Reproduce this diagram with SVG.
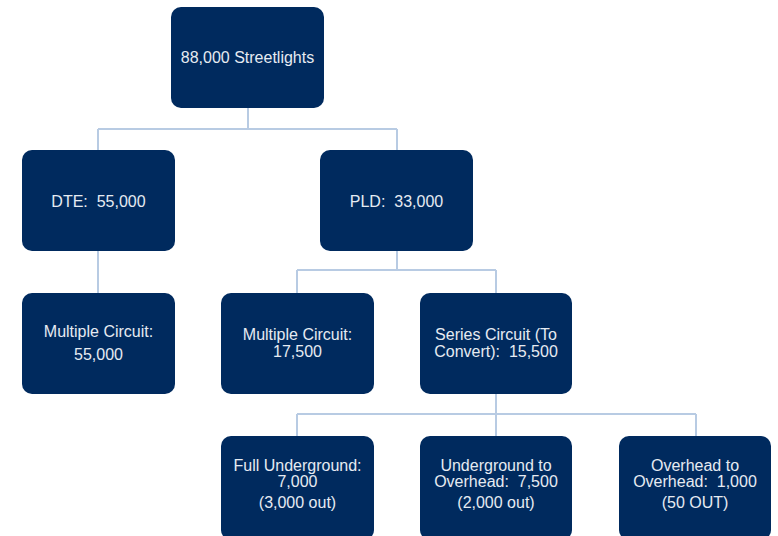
<svg xmlns="http://www.w3.org/2000/svg" width="778" height="536" viewBox="0 0 778 536" xml:space="preserve">
<style>
.box{fill:#002a5e;}
.t{font-family:"Liberation Sans",Arial,sans-serif;font-size:16px;fill:#e6ebf2;text-anchor:middle;white-space:pre;}
.c{stroke:#b8cbe3;stroke-width:2;fill:none;}
</style>
<rect width="778" height="536" fill="#ffffff"/>
<g id="connectors">
<path class="c" d="M248 108V129M98 129H397M98 129V151M397 129V151"/>
<path class="c" d="M98 251V293"/>
<path class="c" d="M397 251V270M297 270H496M297 270V293M496 270V293"/>
<path class="c" d="M496 394V414M297 414H696M297 414V436M496 414V436M696 414V436"/>
</g>
<g id="root"><rect class="box" x="171" y="7" width="153" height="101" rx="10"/><text class="t" x="247.5" y="63">88,000 Streetlights</text></g>
<g id="dte"><rect class="box" x="22" y="150" width="153" height="101" rx="10"/><text class="t" x="98.5" y="207">DTE:  55,000</text></g>
<g id="pld"><rect class="box" x="320" y="150" width="153" height="101" rx="10"/><text class="t" x="396.5" y="207">PLD:  33,000</text></g>
<g id="dte-multiple"><rect class="box" x="22" y="293" width="153" height="101" rx="10"/><text class="t" x="98.5" y="337">Multiple Circuit:</text><text class="t" x="98.5" y="360">55,000</text></g>
<g id="pld-multiple"><rect class="box" x="221" y="293" width="153" height="101" rx="10"/><text class="t" x="297.5" y="340">Multiple Circuit:</text><text class="t" x="297.5" y="357">17,500</text></g>
<g id="series"><rect class="box" x="420" y="293" width="152" height="101" rx="10"/><text class="t" x="496" y="340">Series Circuit (To</text><text class="t" x="496" y="357">Convert):  15,500</text></g>
<g id="full-underground"><rect class="box" x="221" y="436" width="153" height="104" rx="10"/><text class="t" x="297.5" y="471">Full Underground:</text><text class="t" x="297.5" y="487">7,000</text><text class="t" x="297.5" y="508">(3,000 out)</text></g>
<g id="underground-overhead"><rect class="box" x="420" y="436" width="152" height="104" rx="10"/><text class="t" x="496" y="471">Underground to</text><text class="t" x="496" y="487">Overhead:  7,500</text><text class="t" x="496" y="508">(2,000 out)</text></g>
<g id="overhead-overhead"><rect class="box" x="619" y="436" width="152" height="104" rx="10"/><text class="t" x="695" y="471">Overhead to</text><text class="t" x="695" y="487">Overhead:  1,000</text><text class="t" x="695" y="508">(50 OUT)</text></g>
</svg>
